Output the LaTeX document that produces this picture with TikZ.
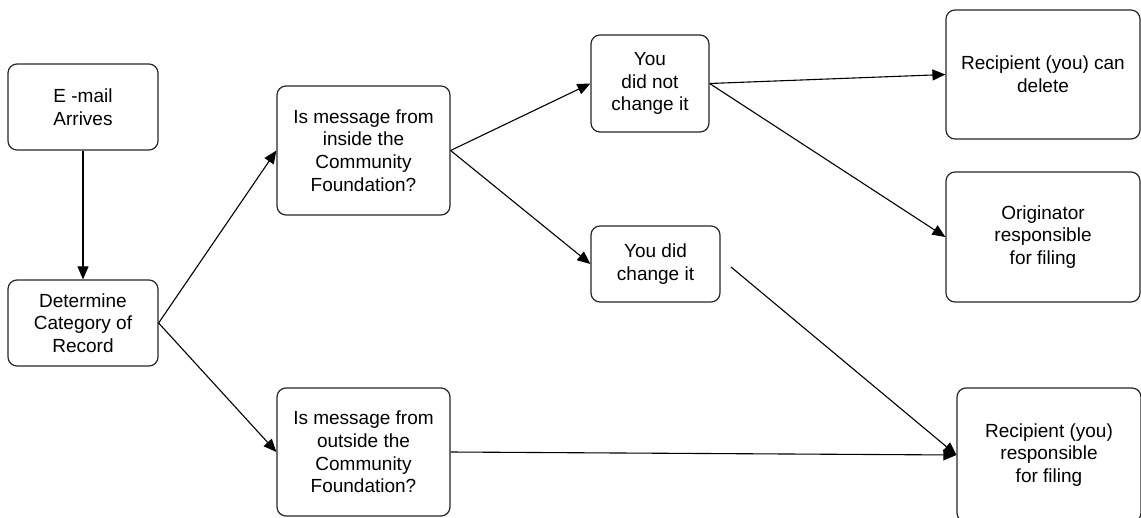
\documentclass[tikz,border=0pt]{standalone}
\usepackage{fontspec}
\setmainfont{Liberation Sans}
\usetikzlibrary{arrows.meta}

\begin{document}
\begin{tikzpicture}
[every node/.style={inner sep=0pt, align=center, font=\fontsize{19pt}{22.6pt}\selectfont},
 box/.style={rectangle, rounded corners=9pt, line width=1.2pt, draw=black!85},
 >={Triangle[length=13pt, width=11pt]}]
\useasboundingbox (0pt, 0pt) rectangle (1141pt, -517pt);
\node (email) [box, minimum width=150pt, minimum height=86pt] at (83.0pt, -107.0pt) {E -mail\\Arrives};
\node (determine) [box, minimum width=150pt, minimum height=86pt] at (83.0pt, -323.0pt) {Determine\\Category of\\Record};
\node (inside) [box, minimum width=173pt, minimum height=129pt] at (363.5pt, -150.5pt) {Is message from\\inside the\\Community\\Foundation?};
\node (outside) [box, minimum width=173pt, minimum height=128pt] at (363.5pt, -452.0pt) {Is message from\\outside the\\Community\\Foundation?};
\node (didnot) [box, minimum width=118pt, minimum height=97pt] at (650.0pt, -83.5pt) {You\\did not\\change it};
\node (didchange) [box, minimum width=129pt, minimum height=76pt] at (655.5pt, -264.0pt) {You did\\change it};
\node (candelete) [box, minimum width=194pt, minimum height=129pt] at (1043.0pt, -74.5pt) {Recipient (you) can\\delete};
\node (originator) [box, minimum width=194pt, minimum height=130pt] at (1043.0pt, -237.0pt) {Originator\\responsible\\for filing};
\node (recipient) [box, minimum width=184pt, minimum height=134pt] at (1049.0pt, -455.0pt) {Recipient (you)\\responsible\\for filing};
\coordinate (loose) at (731.0pt, -267.0pt);
\draw [line width=1.1, ->, color=black] (email) to (determine);
\draw [line width=1.1, ->, color=black] (determine.east) to (inside.west);
\draw [line width=1.1, ->, color=black] (determine.east) to (outside.west);
\draw [line width=1.1, ->, color=black] (inside.east) to (didnot.west);
\draw [line width=1.1, ->, color=black] (inside.east) to (didchange.west);
\draw [line width=1.1, ->, color=black] (didnot.east) to (candelete.west);
\draw [line width=1.1, ->, color=black] (didnot.east) to (originator.west);
\draw [line width=1.1, ->, color=black] (loose) to (recipient.west);
\draw [line width=1.1, ->, color=black] (outside.east) to (recipient.west);
\end{tikzpicture}
\end{document}
